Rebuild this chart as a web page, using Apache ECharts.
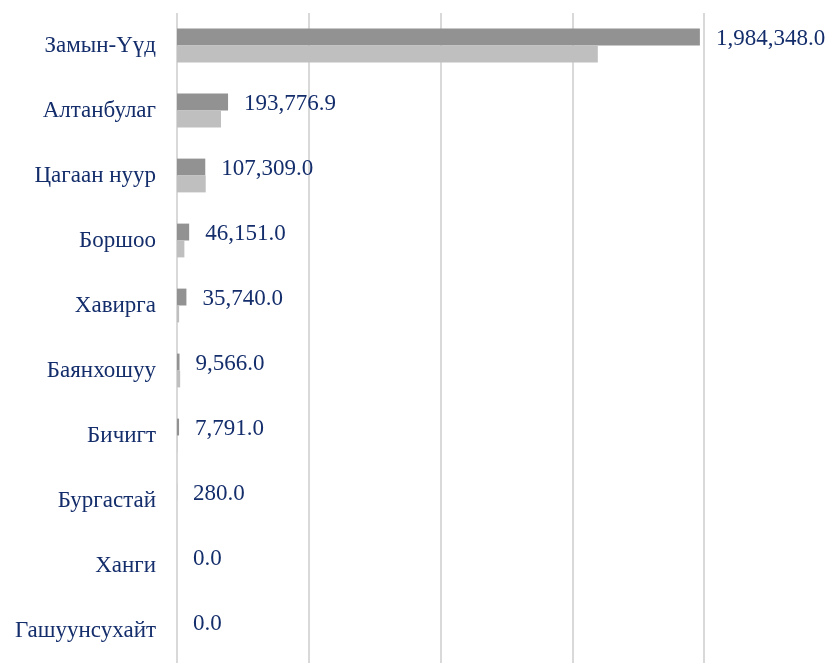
<!DOCTYPE html>
<html>
<head>
<meta charset="utf-8">
<script src="https://cdn.jsdelivr.net/npm/echarts@6/dist/echarts.min.js"></script>
<style>
  html, body { margin: 0; padding: 0; background: #fff; }
  #chart { width: 832px; height: 664px; }
</style>
</head>
<body>
<div id="chart"></div>
<script>
const categories = ['Замын-Үүд', 'Алтанбулаг', 'Цагаан нуур', 'Боршоо', 'Хавирга', 'Баянхошуу', 'Бичигт', 'Бургастай', 'Ханги', 'Гашуунсухайт'];
const seriesA = [1984348.0, 193776.9, 107309.0, 46151.0, 35740.0, 9566.0, 7791.0, 280.0, 0.0, 0.0];
const seriesB = [1597000, 167000, 109000, 28000, 8000, 12000, 1000, 0, 0, 0];

const textColor = '#142d6b';
const font = '"Liberation Serif", "Times New Roman", serif';

const chart = echarts.init(document.getElementById('chart'));
chart.setOption({
  backgroundColor: '#ffffff',
  animation: false,
  grid: { left: 177, right: 128, top: 13, bottom: 1, containLabel: false },
  xAxis: {
    type: 'value',
    min: 0,
    max: 2000000,
    interval: 500000,
    axisLabel: { show: false },
    axisLine: { show: false },
    axisTick: { show: false },
    splitLine: { lineStyle: { color: '#d9d9d9', width: 2 } }
  },
  yAxis: {
    type: 'category',
    inverse: true,
    data: categories,
    axisLine: { show: false },
    axisTick: { show: false },
    axisLabel: { margin: 21, fontSize: 23, color: textColor, fontFamily: font }
  },
  series: [
    {
      type: 'bar',
      data: seriesA,
      barGap: '0%',
      barCategoryGap: '48%',
      itemStyle: { color: '#929292' },
      label: {
        show: true,
        position: 'right',
        distance: 16,
        offset: [0, 2],
        fontSize: 23,
        color: textColor,
        fontFamily: font,
        formatter: p => p.value.toLocaleString('en-US', { minimumFractionDigits: 1, maximumFractionDigits: 1 })
      }
    },
    {
      type: 'bar',
      data: seriesB,
      barGap: '0%',
      barCategoryGap: '48%',
      itemStyle: { color: '#bfbfbf' }
    }
  ]
});
</script>
</body>
</html>
